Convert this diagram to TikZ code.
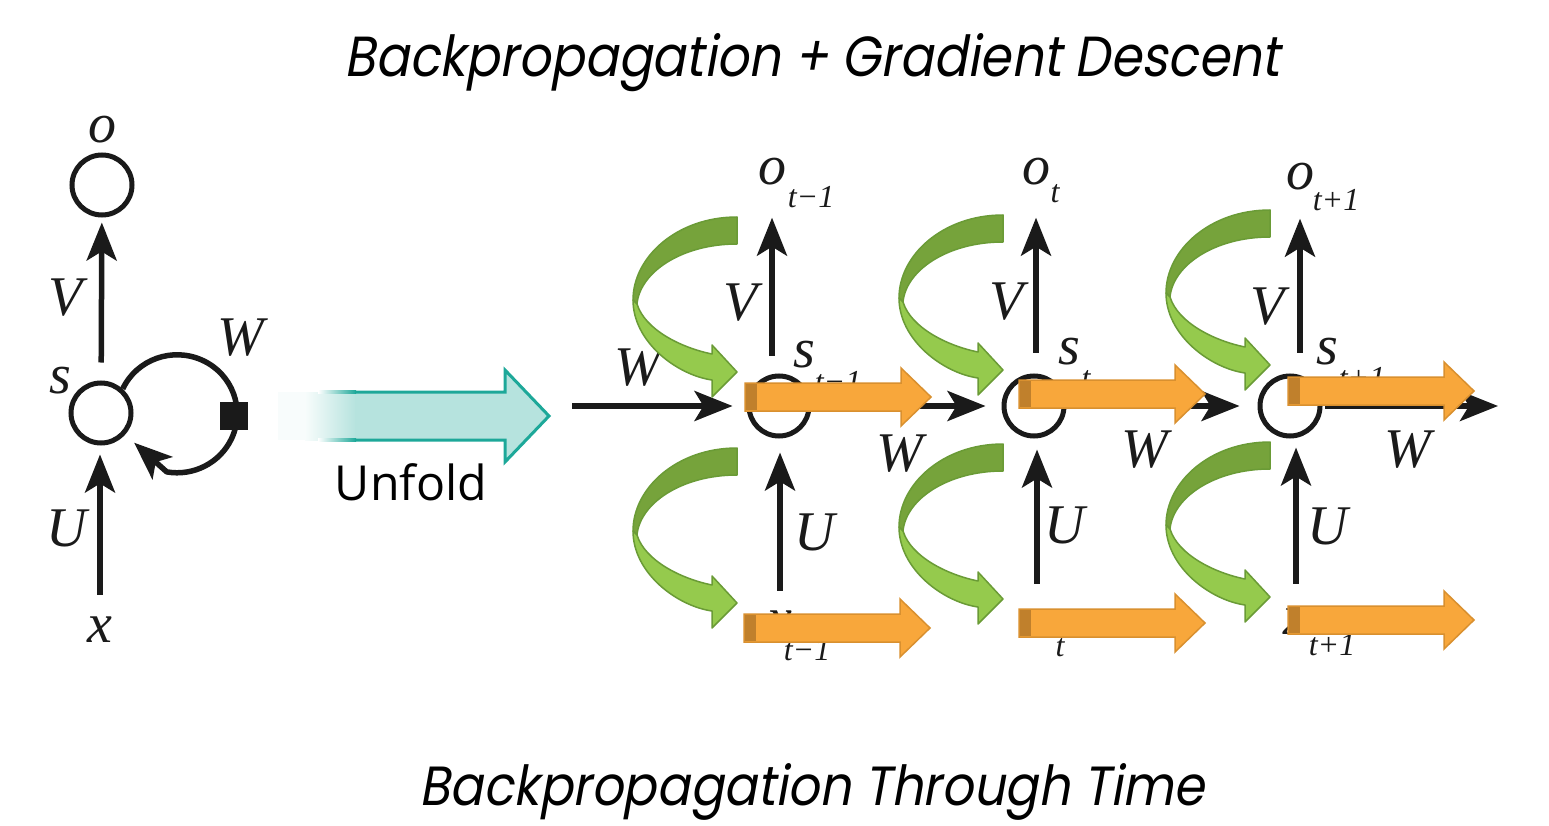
\documentclass[tikz,border=0pt]{standalone}
\usepackage{fontspec}
\setmainfont{Liberation Serif}
\newfontfamily\titlefont[FakeSlant=0.2]{Poppins}
\newfontfamily\unfoldfont{Open Sans}
\usetikzlibrary{arrows.meta}
\definecolor{gdark}{HTML}{76A33B}
\definecolor{glight}{HTML}{95CA4D}
\definecolor{gborder}{HTML}{6A9B36}
\definecolor{ofill}{HTML}{F8A73B}
\definecolor{odark}{HTML}{C0802C}
\definecolor{oborder}{HTML}{D9902F}
\definecolor{tealfill}{HTML}{B6E3DE}
\definecolor{tealline}{HTML}{1DA899}
\definecolor{ink}{HTML}{1A1A1A}
\tikzset{
  blk/.style={draw=ink, line width=5.5pt, -{Stealth[length=38pt,width=30pt,inset=9pt]}},
  ring/.style={circle, draw=ink, line width=5pt, minimum size=60pt, inner sep=0pt},
  lbl/.style={font=\fontsize{56}{56}\selectfont\itshape, inner sep=0pt, text=ink},
  sublbl/.style={font=\fontsize{32}{32}\selectfont\itshape, inner sep=0pt, text=ink},
  garrow/.pic={
    \filldraw[draw=gborder, fill=gdark, line width=1.5pt, line join=round]
      (0,-155) .. controls (-60,-155) and (-104,-115) .. (-104,-72)
      -- (-100,-68) .. controls (-97,-100) and (-55,-128) .. (0,-128) -- cycle;
    \filldraw[draw=gborder, fill=glight, line width=1.5pt, line join=round]
      (-104,-72) .. controls (-104,-30) and (-60,3) .. (-25,8)
      -- (-25,25) -- (0,0) -- (-25,-27) -- (-25,-18)
      .. controls (-55,-24) and (-92,-42) .. (-100,-68) -- cycle;
  },
  oarrow/.pic={
    \filldraw[draw=oborder, fill=ofill, line width=1.5pt]
      (0,-14) -- (156,-14) -- (156,-29) -- (186,0) -- (156,29) -- (156,14) -- (0,14) -- cycle;
    \fill[odark] (0.75,-13.25) rectangle (12,13.25);
  }
}
\begin{document}
\begin{tikzpicture}[x=1pt,y=-1pt]
\useasboundingbox (0,0) rectangle (1549,826);
\fill[white] (0,0) rectangle (1549,826);

% titles
\node[anchor=base, inner sep=0pt] (title) at (812,77)
  {\resizebox{935pt}{43pt}{\titlefont Backpropagation + Gradient Descent}};
\node[anchor=base, inner sep=0pt] (bptt) at (812,805)
  {\resizebox{785pt}{42pt}{\titlefont Backpropagation Through Time}};

% unfold arrow
\fill[tealfill!10] (278,392) rectangle (305,440);
\shade[left color=tealfill!10, right color=tealfill] (305,392) rectangle (356,440);
\fill[tealfill] (355,392) -- (505,392) -- (505,370) -- (549,416) -- (505,462) -- (505,440) -- (355,440) -- cycle;
\shade[left color=white, right color=tealline] (318,390.5) rectangle (356,393.5);
\shade[left color=white, right color=tealline] (318,438.5) rectangle (356,441.5);
\draw[tealline, line width=3pt, line join=miter]
  (355,392) -- (505,392) -- (505,370) -- (549,416) -- (505,462) -- (505,440) -- (355,440);
\node[anchor=base, inner sep=0pt] (unfold) at (411,500)
  {\resizebox{152pt}{!}{\unfoldfont Unfold}};

% ---------- folded network ----------
\node[ring] (o) at (102,185) {};
\node[ring] (s) at (101,413) {};
\node[lbl] (ol) at (102,130) {o};
\node[lbl] (sl) at (60,381) {s};
\node[lbl] (x) at (100,630) {x};
\node[lbl] (Vl) at (66,298) {V};
\node[lbl] (Ul) at (67,528) {U};
\node[lbl] (Wl) at (241,338) {W};
\draw[blk, shorten <=18pt, shorten >=5pt] (s) -- (o);
\draw[blk, shorten <=22pt, shorten >=9pt] (x.north) -- (x |- s.south);
\draw[blk, shorten >=12pt, line join=round]
  (s.48) arc[start angle=-155, end angle=100, x radius=60, y radius=59] -- (s);
\node[fill=ink, minimum size=28pt, inner sep=0pt] (sq) at (234,416) {};

% ---------- unfolded network ----------
\node[ring] (c1) at (779,406) {};
\node[ring] (c2) at (1034,406) {};
\node[ring] (c3) at (1290,406) {};

\node[lbl] (o1) at (772,172) {o};
\node[sublbl] (o1s) at (811,197) {t−1};
\node[lbl] (o2) at (1036,172) {o};
\node[sublbl] (o2s) at (1055,194) {t};
\node[lbl] (o3) at (1300,177) {o};
\node[sublbl] (o3s) at (1336,200) {t+1};

\node[lbl] (s1) at (804,355) {s};
\node[sublbl] (s1s) at (838,382) {t−1};
\node[lbl] (s2) at (1069,352) {s};
\node[sublbl] (s2s) at (1086,380) {t};
\node[lbl] (s3) at (1327,352) {s};
\node[sublbl] (s3s) at (1362,378) {t+1};

\node[lbl] (x1) at (780,624) {x};
\node[sublbl] (x1s) at (807,650) {t−1};
\node[lbl] (x2) at (1037,624) {x};
\node[sublbl] (x2s) at (1060,648) {t};
\node[lbl] (x3) at (1296,622) {x};
\node[sublbl] (x3s) at (1332,645) {t+1};

\node[lbl] (V1) at (741,303) {V};
\node[lbl] (V2) at (1007,302) {V};
\node[lbl] (V3) at (1268,307) {V};
\node[lbl] (U1) at (815,532) {U};
\node[lbl] (U2) at (1065,525) {U};
\node[lbl] (U3) at (1328,526) {U};
\node[lbl] (W0) at (638,368) {W};
\node[lbl] (W1) at (900,454) {W};
\node[lbl] (W2) at (1145,450) {W};
\node[lbl] (W3) at (1408,450) {W};

\coordinate (win) at (572,406);
\coordinate (wout) at (1498,406);
\draw[blk, shorten >=14pt] (win) -- (c1.west);
\draw[blk, shorten <=2pt, shorten >=16pt] (c1.east) -- (c2.west);
\draw[blk, shorten <=2pt, shorten >=18pt] (c2.east) -- (c3.west);
\draw[blk, shorten <=2pt] (c3.east) -- (wout);

\draw[blk, shorten <=18pt, shorten >=32pt] (c1.north -| o1) -- (o1);
\draw[blk, shorten <=21pt, shorten >=32pt] (c2.north -| o2) -- (o2);
\draw[blk, shorten <=21pt, shorten >=28pt] (c3.north -| o3) -- (o3);

\draw[blk, shorten <=20pt, shorten >=14pt] (x1.north) -- (x1 |- c1.south);
\draw[blk, shorten <=27pt, shorten >=11pt] (x2.north) -- (x2 |- c2.south);
\draw[blk, shorten <=25pt, shorten >=9pt] (x3.north) -- (x3 |- c3.south);

% green curved arrows
\pic at (737,372) {garrow};
\pic at (737,603) {garrow};
\pic at (1003,370) {garrow};
\pic at (1003,599) {garrow};
\pic at (1270,365) {garrow};
\pic at (1270,597) {garrow};

% orange block arrows
\pic at (745,397) {oarrow};
\pic at (1019,394) {oarrow};
\pic at (1288,391) {oarrow};
\pic at (744,628) {oarrow};
\pic at (1019,623) {oarrow};
\pic at (1288,620) {oarrow};
\end{tikzpicture}
\end{document}
